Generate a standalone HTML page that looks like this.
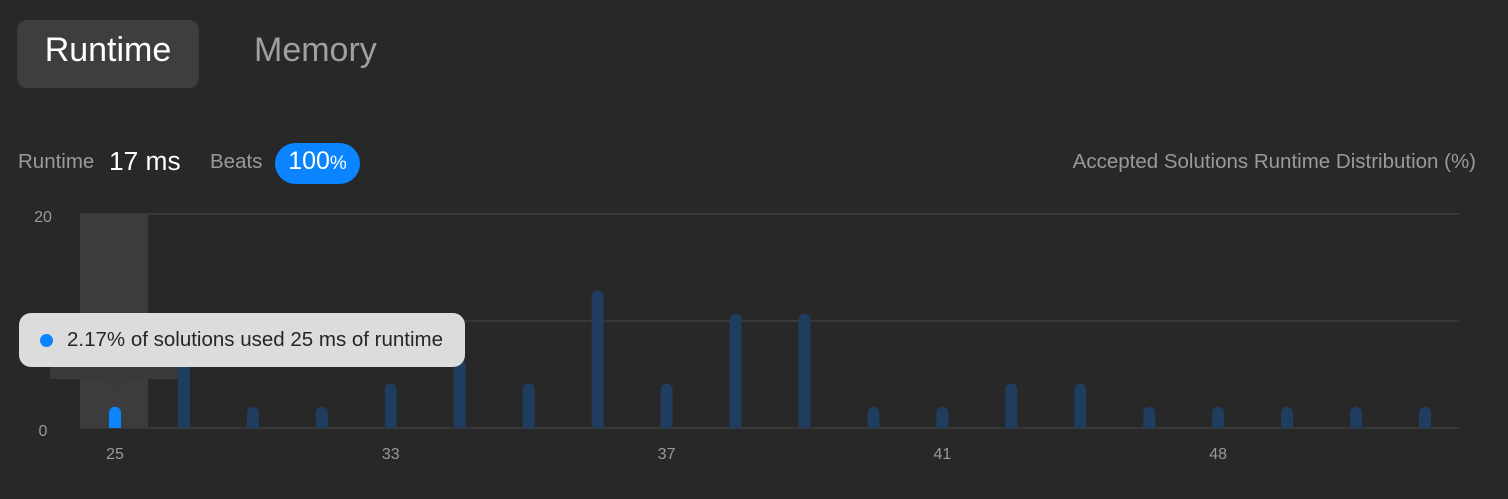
<!DOCTYPE html>
<html><head><meta charset="utf-8"><style>
body{margin:0;width:1508px;height:499px;background:#282828;font-family:"Liberation Sans",sans-serif;overflow:hidden;position:relative}
.tab{position:absolute;top:20px;height:68px;line-height:60px;font-size:34px;border-radius:10px}
</style></head><body>
<div class="tab" style="left:17px;width:182px;background:#3e3e3e;color:#fff;text-align:center">Runtime</div>
<div class="tab" style="left:254px;color:#a0a0a0">Memory</div>
<div style="position:absolute;left:18px;top:150px;font-size:20.5px;color:#9a9a9a">Runtime</div>
<div style="position:absolute;left:109px;top:146px;font-size:26.3px;color:#fff">17 ms</div>
<div style="position:absolute;left:210px;top:150px;font-size:20.5px;color:#9a9a9a">Beats</div>
<div style="position:absolute;left:275px;top:143px;width:85px;height:41px;border-radius:21px;background:#0a84ff;color:#fff;text-align:center;line-height:37px;font-size:25px">100<span style="font-size:19px">%</span></div>
<div style="position:absolute;right:32px;top:150px;font-size:20.5px;color:#9a9a9a">Accepted Solutions Runtime Distribution (%)</div>
<svg id="chart" width="1508" height="499" style="position:absolute;left:0;top:0"></svg>
<div style="position:absolute;left:19px;top:313px;width:446px;height:54px;background:#dcdcdc;border-radius:12px;font-size:20.5px;color:#262626;line-height:54px">
<span style="position:absolute;left:21px;top:21px;width:13px;height:13px;border-radius:50%;background:#0a84ff"></span>
<span style="position:absolute;left:48px">2.17% of solutions used 25 ms of runtime</span></div>
<script>
const categories=[25,27,29,31,33,34,35,36,37,38,39,40,41,43,44,46,48,50,52,54];
const values=[2.17,6.52,2.17,2.17,4.35,6.52,4.35,13.04,4.35,10.87,10.87,2.17,2.17,4.35,4.35,2.17,2.17,2.17,2.17,2.17];
const yTicks=[0,10,20];
const yTickLabels=["0","","20"];
const xLabelIdx=[0,4,8,12,16];
const activeIdx=0;
const NS="http://www.w3.org/2000/svg";
const svg=document.getElementById('chart');
const x0=80,x1=1459,yTop=214,yBot=428,yMax=20;
const step=(x1-x0)/categories.length;
const xs=i=>x0+step*(i+0.5)+0.5;
const ys=v=>yBot-(v/yMax)*(yBot-yTop);
function mk(t,a){const e=document.createElementNS(NS,t);for(const k in a)e.setAttribute(k,a[k]);svg.appendChild(e);return e;}
const band=mk('rect',{x:x0,y:yTop,width:68,height:yBot-yTop,fill:'#3c3c3c'});


yTicks.forEach((t,i)=>{
 const g=mk('line',{x1:x0,x2:x1,y1:ys(t),y2:ys(t),stroke:'#3d3d3d','stroke-width':1.5});
 
 
 if(yTickLabels[i]){const l=mk('text',{x:43,y:ys(t)+8,'text-anchor':'middle','font-size':16,fill:'#9a9a9a'});l.textContent=yTickLabels[i];
 
 }
});
const ptr=mk('rect',{x:50,y:322,width:130,height:57,fill:'#3a3a3a'});


const arr=mk('path',{d:`M${xs(activeIdx)-9} 379 L${xs(activeIdx)} 388 L${xs(activeIdx)+9} 379Z`,fill:'#3a3a3a'});


values.forEach((v,i)=>{
 const cx=xs(i),top=ys(v)+2,w=12,r=6;
 const d=`M${cx-w/2} ${yBot} L${cx-w/2} ${top+r} A${r} ${r} 0 0 1 ${cx+w/2} ${top+r} L${cx+w/2} ${yBot}Z`;
 const b=mk('path',{d,fill:i===activeIdx?'#0a84ff':'#1f3d5e'});
 
 
});
xLabelIdx.forEach(i=>{
 const l=mk('text',{x:xs(i),y:459,'text-anchor':'middle','font-size':16,fill:'#9a9a9a'});
 l.textContent=categories[i];
 
 
});
</script>
</body></html>
